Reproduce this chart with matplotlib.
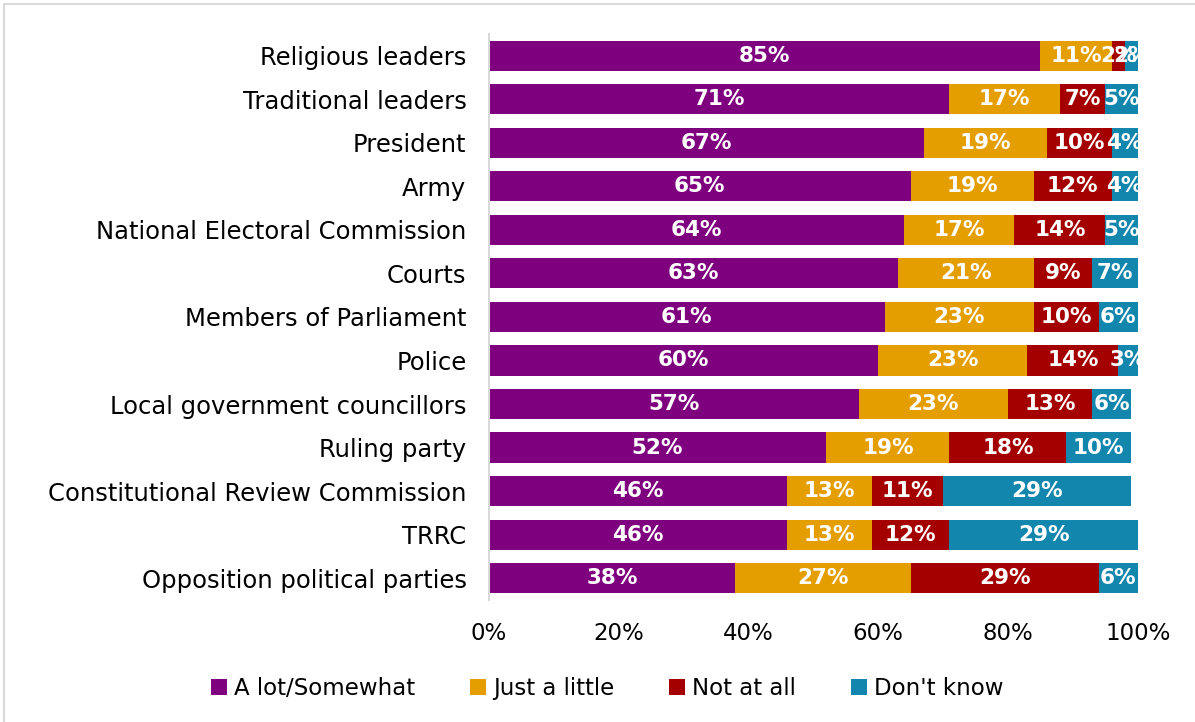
import matplotlib.pyplot as plt
from matplotlib.patches import Rectangle

categories = ['Religious leaders', 'Traditional leaders', 'President', 'Army',
              'National Electoral Commission', 'Courts', 'Members of Parliament',
              'Police', 'Local government councillors', 'Ruling party',
              'Constitutional Review Commission', 'TRRC',
              'Opposition political parties']
a_lot = [85, 71, 67, 65, 64, 63, 61, 60, 57, 52, 46, 46, 38]
just_little = [11, 17, 19, 19, 17, 21, 23, 23, 23, 19, 13, 13, 27]
not_at_all = [2, 7, 10, 12, 14, 9, 10, 14, 13, 18, 11, 12, 29]
dont_know = [2, 5, 4, 4, 5, 7, 6, 3, 6, 10, 29, 29, 6]

series = [('A lot/Somewhat', a_lot, '#7F007F'),
          ('Just a little', just_little, '#E59E00'),
          ('Not at all', not_at_all, '#A50000'),
          ("Don't know", dont_know, '#1386AD')]

plt.rcParams['font.family'] = ['DejaVu Sans']

fig = plt.figure(figsize=(11.95, 7.22), dpi=100)
ax = fig.add_axes([0.409, 0.1693, 0.543, 0.7833])
fig.patches.append(Rectangle((0.003, -0.01), 1.2, 1.004, transform=fig.transFigure,
                             fill=False, edgecolor='#d9d9d9', linewidth=1.5))

ypos = list(range(len(categories)))
left = [0] * len(categories)
for name, vals, color in series:
    ax.barh(ypos, vals, left=left, height=0.69, color=color, label=name)
    for y, v, l in zip(ypos, vals, left):
        ax.text(l + v / 2, y, f'{v}%', ha='center', va='center', color='white',
                fontsize=15.5, fontweight='bold')
    left = [l + v for l, v in zip(left, vals)]

ax.set_xlim(0, 100)
ax.set_ylim(len(categories) - 0.5, -0.5)
ax.set_yticks(ypos)
ax.set_yticklabels(categories, fontsize=17.5)
ax.set_xticks([0, 20, 40, 60, 80, 100])
ax.set_xticklabels(['0%', '20%', '40%', '60%', '80%', '100%'], fontsize=16.5)
ax.tick_params(axis='y', length=0, pad=16)
ax.tick_params(axis='x', length=0, pad=16)
for s in ['top', 'right', 'bottom']:
    ax.spines[s].set_visible(False)
ax.spines['left'].set_color('#d9d9d9')
ax.spines['left'].set_linewidth(1.5)

fig.legend(loc='center', bbox_to_anchor=(0.508, 0.047), ncol=4, frameon=False,
           fontsize=16.5, handlelength=0.7, handleheight=0.7, handletextpad=0.3,
           columnspacing=2.4)

fig.savefig('out.png', dpi=100)
